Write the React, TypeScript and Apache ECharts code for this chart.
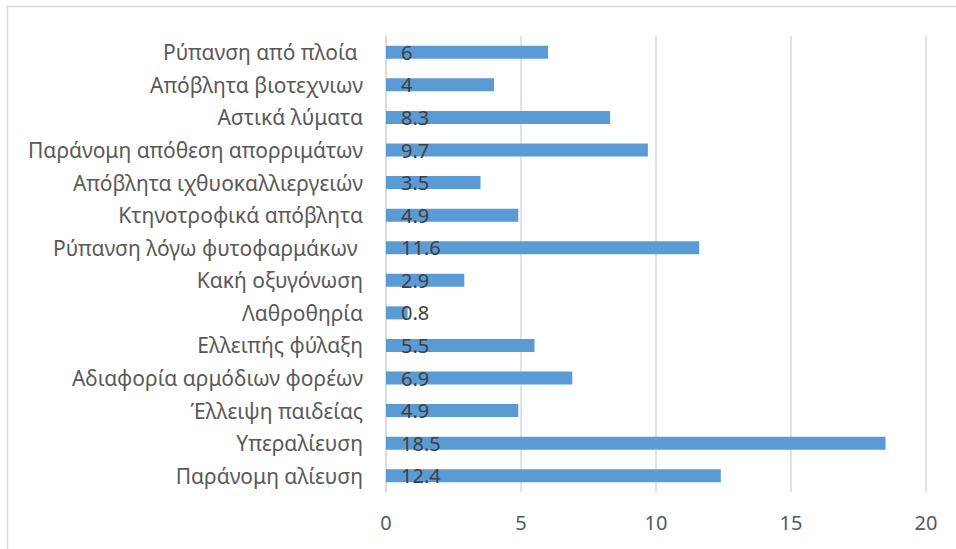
import React, { useEffect, useRef } from "react";
import * as echarts from "echarts";

const categories: string[] = [
  "Ρύπανση από πλοία ",
  "Απόβλητα βιοτεχνιων",
  "Αστικά λύματα",
  "Παράνομη απόθεση απορριμάτων",
  "Απόβλητα ιχθυοκαλλιεργειών",
  "Κτηνοτροφικά απόβλητα",
  "Ρύπανση λόγω φυτοφαρμάκων ",
  "Κακή οξυγόνωση",
  "Λαθροθηρία",
  "Ελλειπής φύλαξη",
  "Αδιαφορία αρμόδιων φορέων",
  "Έλλειψη παιδείας",
  "Υπεραλίευση",
  "Παράνομη αλίευση",
];

const values: number[] = [6, 4, 8.3, 9.7, 3.5, 4.9, 11.6, 2.9, 0.8, 5.5, 6.9, 4.9, 18.5, 12.4];

const xTicks = { min: 0, max: 20, interval: 5 };

const FONT = "'Noto Sans', sans-serif";

export default function App() {
  const ref = useRef<HTMLDivElement>(null);
  useEffect(() => {
    if (!ref.current) return;
    const chart = echarts.init(ref.current, null, { renderer: "svg" });
    chart.setOption({
      animation: false,
      backgroundColor: "#ffffff",
      textStyle: { fontFamily: FONT },
      graphic: [
        {
          type: "rect",
          shape: { x: 7.5, y: 6.5, width: 1000, height: 600 },
          style: { fill: "none", stroke: "#d9d9d9", lineWidth: 1.5 },
          silent: true,
          z: -1,
        },
      ],
      grid: { left: 386, right: 30, top: 36, bottom: 57, containLabel: false },
      xAxis: {
        type: "value",
        min: xTicks.min,
        max: xTicks.max,
        interval: xTicks.interval,
        axisLine: { show: false },
        axisTick: { show: false },
        splitLine: { show: true, lineStyle: { color: "#d9d9d9", width: 1.5 } },
        axisLabel: { fontSize: 20, color: "#595959", margin: 20, fontFamily: FONT },
      },
      yAxis: {
        type: "category",
        inverse: true,
        data: categories,
        axisLine: { show: true, lineStyle: { color: "#d9d9d9", width: 1.5 } },
        axisTick: { show: false },
        axisLabel: { fontSize: 21, color: "#595959", margin: 23, fontFamily: FONT },
      },
      series: [
        {
          type: "bar",
          data: values,
          barWidth: 13,
          itemStyle: { color: "#5b9bd5" },
          label: {
            show: true,
            position: [15, "50%"],
            align: "left",
            verticalAlign: "middle",
            fontSize: 20,
            color: "#404040",
            fontFamily: FONT,
            formatter: (p: any) => String(p.value),
          },
        },
      ],
    });
    return () => chart.dispose();
  }, []);
  return (
    <div
      ref={ref}
      style={{ position: "fixed", left: 0, top: 0, width: 956, height: 549 }}
    />
  );
}
